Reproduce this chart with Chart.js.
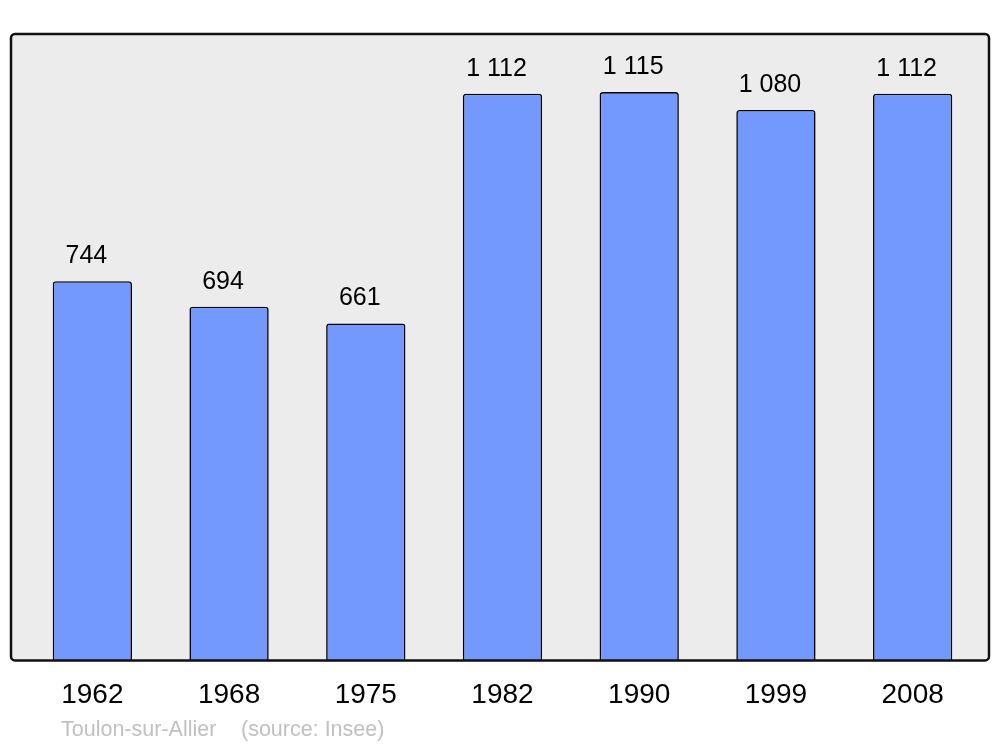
<!DOCTYPE html>
<html>
<head>
<meta charset="utf-8">
<script src="https://cdn.jsdelivr.net/npm/chart.js@4/dist/chart.umd.min.js"></script>
<style>
  html, body { margin: 0; padding: 0; background: #ffffff; }
  #wrap { width: 1000px; height: 747px; position: relative; }
</style>
</head>
<body>
<div id="wrap"><canvas id="chart" width="1000" height="747"></canvas></div>
<script>
// Population by census year
const years = ['1962', '1968', '1975', '1982', '1990', '1999', '2008'];
const population = [744, 694, 661, 1112, 1115, 1080, 1112];
const townName = 'Toulon-sur-Allier';
const sourceText = '(source: Insee)';

const fontFamily = '"Liberation Sans", Arial, sans-serif';

// "1 112" style thousands separator
function formatValue(v) {
    return String(v).replace(/\B(?=(\d{3})+(?!\d))/g, ' ');
}

// Grey panel with black rounded frame behind the bars
const framePlugin = {
    id: 'frame',
    beforeDatasetsDraw(chart) {
        const { ctx, chartArea } = chart;
        ctx.save();
        ctx.beginPath();
        ctx.roundRect(chartArea.left - 13, chartArea.top, chartArea.width + 21, chartArea.height, 4);
        ctx.fillStyle = '#ececec';
        ctx.fill();
        ctx.restore();
    },
    afterDatasetsDraw(chart) {
        const { ctx, chartArea } = chart;
        ctx.save();
        ctx.beginPath();
        ctx.roundRect(chartArea.left - 13, chartArea.top, chartArea.width + 21, chartArea.height, 4);
        ctx.lineWidth = 2.5;
        ctx.strokeStyle = '#111111';
        ctx.stroke();
        ctx.restore();
    }
};

// Value labels above each bar, plus the footer line
const labelsPlugin = {
    id: 'valueLabels',
    afterDraw(chart) {
        const { ctx } = chart;
        const meta = chart.getDatasetMeta(0);
        ctx.save();
        ctx.fillStyle = '#000000';
        ctx.font = '25px ' + fontFamily;
        ctx.textAlign = 'center';
        ctx.textBaseline = 'alphabetic';
        meta.data.forEach((bar, i) => {
            ctx.fillText(formatValue(population[i]), bar.x - 6, bar.y - 18);
        });

        ctx.font = '21.5px ' + fontFamily;
        ctx.fillStyle = '#c0c0c0';
        ctx.textAlign = 'left';
        ctx.textBaseline = 'middle';
        ctx.fillText(townName, 61, 730);
        ctx.fillText(sourceText, 241, 730);
        ctx.restore();
    }
};

const chart = new Chart(document.getElementById('chart').getContext('2d'), {
    type: 'bar',
    data: {
        labels: years,
        datasets: [{
            data: population,
            backgroundColor: '#7399ff',
            borderColor: '#000000',
            borderWidth: 1.6,
            borderRadius: 3,
            borderSkipped: 'start',
            barPercentage: 0.58,
            categoryPercentage: 1.0
        }]
    },
    options: {
        responsive: false,
        animation: false,
        layout: {
            padding: { left: 24, right: 19, top: 34, bottom: 17 }
        },
        plugins: {
            legend: { display: false },
            tooltip: { enabled: false }
        },
        scales: {
            x: {
                grid: { display: false, drawTicks: false },
                border: { display: false },
                ticks: {
                    color: '#000000',
                    padding: 18,
                    font: { size: 28, family: fontFamily }
                }
            },
            y: {
                display: false,
                min: 0,
                max: 1229
            }
        }
    },
    plugins: [framePlugin, labelsPlugin]
});
</script>
</body>
</html>
